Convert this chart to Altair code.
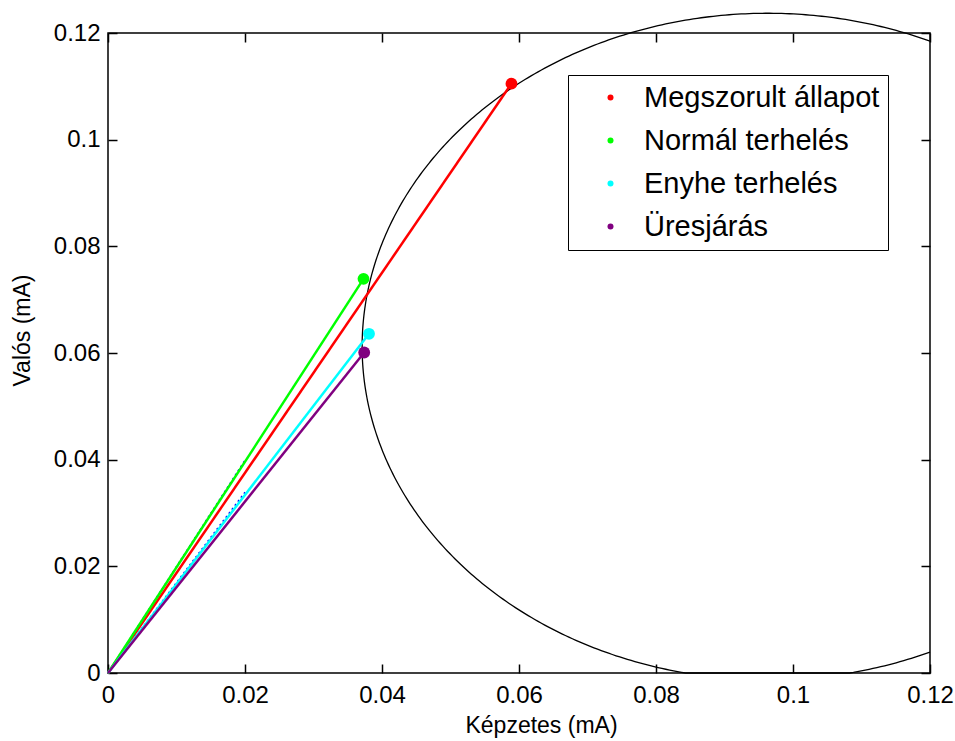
import altair as alt
import numpy as np
import pandas as pd

# Operating points (real vs. imaginary current component, mA)
series = ["Megszorult állapot", "Normál terhelés", "Enyhe terhelés", "Üresjárás"]
colors = ["#ff0000", "#00ff00", "#00ffff", "#800080"]
end_x = [0.0589, 0.0373, 0.0381, 0.0374]
end_y = [0.1105, 0.0739, 0.0636, 0.0601]

# Faint dotted guide phasors
guide_x = [0.0200, 0.0200]
guide_y = [0.0399, 0.0339]

# Circle diagram (centre and semi-axes in data units)
circle_cx, circle_cy = 0.0963, 0.0612
circle_rx, circle_ry = 0.0592, 0.0625

X_MAX = 0.12
tick_vals = [0, 0.02, 0.04, 0.06, 0.08, 0.1, 0.12]
FONT = "Liberation Sans"

# ---- tables -------------------------------------------------------------
phasors = pd.DataFrame(
    [{"name": s, "step": 0, "x": 0.0, "y": 0.0} for s in series]
    + [{"name": s, "step": 1, "x": x, "y": y} for s, x, y in zip(series, end_x, end_y)]
)
points = pd.DataFrame({"name": series, "x": end_x, "y": end_y})
guides = pd.DataFrame(
    [{"g": i, "step": 0, "x": 0.0, "y": 0.0} for i in range(len(guide_x))]
    + [{"g": i, "step": 1, "x": x, "y": y} for i, (x, y) in enumerate(zip(guide_x, guide_y))]
)

# circle arc: from where it leaves the right edge at the top, round the
# left side, back to the right edge at the bottom
theta0 = np.arccos((X_MAX - circle_cx) / circle_rx)
theta = np.linspace(theta0, 2 * np.pi - theta0, 400)
circle = pd.DataFrame({
    "i": np.arange(theta.size),
    "x": circle_cx + circle_rx * np.cos(theta),
    "y": np.maximum(circle_cy + circle_ry * np.sin(theta), 0.0),
})

xs = alt.Scale(domain=[0, X_MAX], nice=False, zero=False)
ys = alt.Scale(domain=[0, 0.12], nice=False, zero=False)
cs = alt.Scale(domain=series, range=colors)

LABEL_EXPR = "format(datum.value, '~g')"

def tick_axis(orient):
    return alt.Axis(orient=orient, values=tick_vals, labels=False, domain=False,
                    grid=False, ticks=True, tickSize=9, offset=-9,
                    tickColor="#000000", tickWidth=1.5, title=None)

x_label_axis = alt.Axis(values=tick_vals, labelExpr=LABEL_EXPR, ticks=False, tickSize=0,
                        domain=False, grid=False, labelFontSize=24, labelFont=FONT,
                        labelColor="#000000", labelPadding=10, labelFlush=False,
                        labelOverlap=False,
                        title="Képzetes (mA)", titleFont=FONT, titleFontSize=23,
                        titleFontWeight="normal", titleColor="#000000",
                        titleX=433, titleY=52, titleBaseline="middle")
y_label_axis = alt.Axis(values=tick_vals, labelExpr=LABEL_EXPR, ticks=False, tickSize=0,
                        domain=False, grid=False, labelFontSize=24, labelFont=FONT,
                        labelColor="#000000", labelPadding=8, labelFlush=False,
                        labelOverlap=False,
                        title="Valós (mA)", titleFont=FONT, titleFontSize=23,
                        titleFontWeight="normal", titleColor="#000000",
                        titleX=-86, titleY=297, titleBaseline="middle")

circle_layer = alt.Chart(circle).mark_line(
    color="#000000", strokeWidth=1.3, clip=False
).encode(
    x=alt.X("x:Q", scale=xs, axis=x_label_axis),
    y=alt.Y("y:Q", scale=ys, axis=y_label_axis),
    order="i:Q",
)

guide_layer = alt.Chart(guides).mark_line(
    color="#0000ff", strokeWidth=1.5, strokeDash=[2, 3]
).encode(
    x=alt.X("x:Q", scale=xs, axis=None),
    y=alt.Y("y:Q", scale=ys, axis=None),
    detail="g:N",
    order="step:Q",
)

phasor_layer = alt.Chart(phasors).mark_line(strokeWidth=2.5).encode(
    x=alt.X("x:Q", scale=xs, axis=tick_axis("bottom")),
    y=alt.Y("y:Q", scale=ys, axis=tick_axis("left")),
    color=alt.Color("name:N", scale=cs, legend=None),
    order="step:Q",
)

point_layer = alt.Chart(points).mark_point(filled=True, size=140, opacity=1).encode(
    x=alt.X("x:Q", scale=xs, axis=tick_axis("top")),
    y=alt.Y("y:Q", scale=ys, axis=tick_axis("right")),
    color=alt.Color(
        "name:N", scale=cs,
        legend=alt.Legend(
            title=None, orient="none", legendX=460, legendY=42,
            labelFont=FONT, labelFontSize=29, labelColor="#000000", labelLimit=500,
            symbolType="circle", symbolSize=36, symbolStrokeWidth=0,
            symbolOffset=20, labelOffset=19,
            padding=8, rowPadding=13,
            strokeColor="#000000", fillColor="#ffffff",
        ),
    ),
)

chart = alt.layer(
    circle_layer, guide_layer, phasor_layer, point_layer
).resolve_axis(
    x="independent", y="independent"
).resolve_legend(
    color="independent"
).properties(
    width=822, height=640,
    autosize=alt.AutoSizeParams(type="none"),
    padding={"left": 108, "top": 33, "right": 25, "bottom": 68},
    background="#ffffff",
).configure_view(
    stroke="#000000", strokeWidth=1.5
)

chart.save("out.html", embed_options={"renderer": "svg", "actions": False})
